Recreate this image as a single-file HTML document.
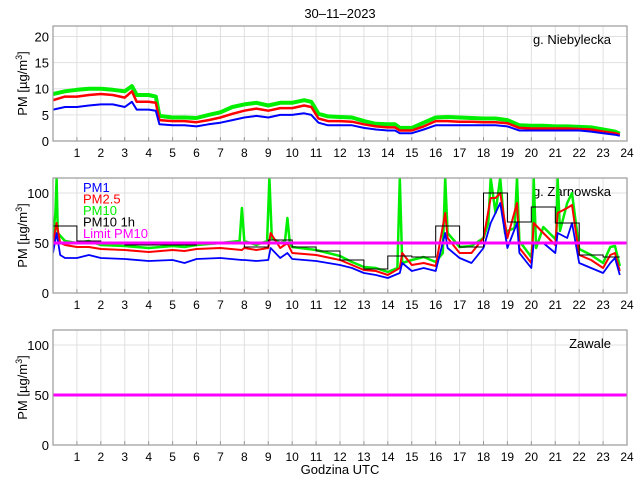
<!DOCTYPE html>
<html><head><meta charset="utf-8"><style>
body{margin:0;background:#fff;}
svg{display:block;font-family:"Liberation Sans",sans-serif;}
</style></head><body>
<svg id="chart" width="640" height="480" viewBox="0 0 640 480">
<text x="340" y="18" text-anchor="middle" font-size="13">30–11–2023</text>
</svg>
<script>
// ---- data ----
const hoursTop = [0,0.5,1,1.5,2,2.5,3,3.3,3.5,4,4.3,4.45,5,5.5,6,6.5,7,7.5,8,8.5,9,9.5,10,10.5,10.8,11.1,11.5,12,12.5,13,13.5,14,14.3,14.5,15,15.5,16,16.5,17,17.5,18,18.5,19,19.5,20,20.5,21,21.5,22,22.5,23,23.5,23.7];
const topPM1  = [6,6.5,6.5,6.8,7,7,6.5,7.5,6,6,5.8,3.2,3,3,2.8,3.2,3.5,4,4.5,4.8,4.5,5,5,5.3,5,3.5,3,3,3,2.5,2.2,2,2,1.5,1.5,2.2,3,3,3,3,3,3,2.8,2,2,2,2,2,2,1.8,1.5,1.2,1];
const topPM25 = [7.8,8.5,8.5,8.8,9,8.8,8.3,9.5,7.5,7.5,7.3,4,3.8,3.8,3.6,4,4.5,5.2,5.8,6.2,5.8,6.3,6.3,6.8,6.5,4.3,3.8,3.8,3.7,3.2,2.8,2.6,2.6,2,2,2.8,3.8,3.8,3.7,3.7,3.6,3.6,3.4,2.5,2.4,2.4,2.4,2.4,2.3,2.2,1.8,1.5,1.2];
const topPM10 = [9,9.5,9.8,10,10,9.8,9.5,10.5,8.8,8.8,8.5,4.8,4.5,4.5,4.4,5,5.5,6.5,7,7.3,6.8,7.3,7.3,7.8,7.5,5.2,4.7,4.6,4.5,3.8,3.3,3.2,3.2,2.5,2.5,3.5,4.5,4.6,4.5,4.4,4.3,4.3,4,3,2.9,2.9,2.8,2.8,2.7,2.6,2.2,1.8,1.4];

const hoursMid = [0,0.15,0.3,0.5,1,1.5,2,3,4,5,5.5,6,7,7.9,8,8.5,9,9.1,9.5,9.8,10,11,12,12.5,13,13.5,14,14.5,14.6,15,15.5,16,16.4,16.5,17,17.5,18,18.3,18.5,18.7,19,19.4,19.5,20,20.1,20.5,21,21.1,21.5,21.7,22,22.5,23,23.3,23.5,23.7];
const midPM1  = [40,60,38,35,35,38,35,34,32,33,30,34,35,33,33,32,33,45,35,40,34,32,28,25,20,18,15,20,30,22,25,22,60,45,35,30,45,70,80,90,45,70,40,25,50,50,40,60,55,70,30,25,20,30,35,18];
const midPM25 = [50,70,50,48,46,46,44,43,41,43,42,44,45,43,45,43,45,60,45,50,40,38,33,28,23,22,18,25,40,28,30,27,80,55,40,40,55,95,95,100,55,90,45,30,70,60,48,80,85,88,38,33,25,38,40,22];
const hoursMid10 = [
  0,0.1,0.15,0.2,0.5,
  1,1.5,2,3,4,
  5,5.5,6,7,7.8,
  7.9,8,8.5,8.95,9.05,
  9.15,9.5,9.7,9.8,9.9,
  10,11,12,12.5,13,
  13.5,14,14.4,14.5,14.6,
  15,15.5,16,16.3,16.4,
  16.5,17,17.5,18,18.2,
  18.3,18.5,18.7,18.9,19,
  19.3,19.4,19.5,20,20.05,
  20.1,20.2,20.5,21,21.05,
  21.1,21.2,21.5,21.7,22,
  22.5,23,23.3,23.5,23.7];
const midPM10 = [
  56,80,115,60,52,
  50,52,48,47,45,
  47,46,48,50,52,
  85,52,48,52,115,
  55,50,52,75,50,
  46,43,37,31,26,
  25,21,25,115,30,
  33,36,31,40,115,
  60,46,47,55,70,
  115,80,115,60,62,
  65,115,52,36,50,
  115,45,66,54,60,
  115,62,90,100,44,
  38,30,46,47,27];
const stepHours = [0,1,2,3,4,5,6,7,8,9,10,11,12,13,14,15,16,17,18,19,20,21,22,23,23.7];
const stepPM10 = [67,52,50,48,48,48,50,50,46,53,46,42,33,24,37,36,67,46,100,71,86,70,38,36];
const limitPM10 = [50];

const xTicks = [1,2,3,4,5,6,7,8,9,10,11,12,13,14,15,16,17,18,19,20,21,22,23,24];
const yTicksTop = [0,5,10,15,20];
const yTicksMid = [0,50,100];

// ---- layout ----
const NS="http://www.w3.org/2000/svg";
const svg=document.getElementById('chart');
const X0=53,X1=627;
function xs(h){return X0+(h/24)*(X1-X0);}
function mk(tag,attrs,parent){const e=document.createElementNS(NS,tag);for(const k in attrs)e.setAttribute(k,attrs[k]);(parent||svg).appendChild(e);return e;}

function panel(id,top,bottom,ymax,yticks,station,showXLabel){
  const g=mk('g',{});
  
  
  const ys=v=>bottom-(v/ymax)*(bottom-top);
  const clip=mk('clipPath',{id:'clip-'+id},g);
  mk('rect',{x:X0,y:top,width:X1-X0,height:bottom-top},clip);
  xTicks.forEach(t=>{
    const l=mk('line',{x1:xs(t),x2:xs(t),y1:top,y2:bottom,stroke:'#e0e0e0','stroke-width':1},g);
    
    
    const tk=mk('line',{x1:xs(t),x2:xs(t),y1:bottom,y2:bottom-4,stroke:'#999'},g);
    
    
    const tx=mk('text',{x:xs(t),y:bottom+16,'text-anchor':'middle','font-size':'12'},g);
    tx.textContent=t;
    
    
  });
  yticks.forEach(v=>{
    const l=mk('line',{x1:X0,x2:X1,y1:ys(v),y2:ys(v),stroke:'#e0e0e0'},g);
    
    
    const tx=mk('text',{x:X0-4,y:ys(v)+5,'text-anchor':'end','font-size':'13'},g);
    tx.textContent=v;
    
    
  });
  const yl=mk('text',{x:0,y:0,'text-anchor':'middle','font-size':'13',transform:`translate(27,${(top+bottom)/2}) rotate(-90)`},g);
  yl.innerHTML='PM [µg/m<tspan dy="-5" font-size="9">3</tspan><tspan dy="5">]</tspan>';
  
  
  const st=mk('text',{x:611,y:top+18,'text-anchor':'end','font-size':'13'},g);
  st.textContent=station;
  
  
  if(showXLabel){
    const xl=mk('text',{x:340,y:474,'text-anchor':'middle','font-size':'13'},g);
    xl.textContent='Godzina UTC';
    
    
  }
  return {g,ys,clipId:'clip-'+id,top,bottom};
}
function line(P,hours,vals,color,w,name){
  const d=hours.map((h,i)=>(i?'L':'M')+xs(h).toFixed(1)+','+P.ys(Math.min(vals[i],200)).toFixed(1)).join('');
  const p=mk('path',{d,fill:'none',stroke:color,'stroke-width':w,'stroke-linejoin':'round','clip-path':`url(#${P.clipId})`},P.g);
  
  
}
function stepLine(P,hours,vals,name){
  let d='';
  vals.forEach((v,i)=>{d+=(i?'L':'M')+xs(hours[i]).toFixed(1)+','+P.ys(v).toFixed(1)+'L'+xs(hours[i+1]).toFixed(1)+','+P.ys(v).toFixed(1);});
  const p=mk('path',{d,fill:'none',stroke:'#000','stroke-width':1,'clip-path':`url(#${P.clipId})`},P.g);
  
  
}
function limit(P,v){
  const l=mk('line',{x1:X0,x2:X1,y1:P.ys(v),y2:P.ys(v),stroke:'#ff00ff','stroke-width':3},P.g);
  
  
}
function frame(P){
  const r=mk('rect',{x:X0,y:P.top,width:X1-X0,height:P.bottom-P.top,fill:'none',stroke:'#999','stroke-width':1.2},P.g);
  
  
}

const P1=panel('niebylecka',26,141,22,yTicksTop,'g. Niebylecka',false);
line(P1,hoursTop,topPM10,'#00ee00',4,'pm10-line');
line(P1,hoursTop,topPM25,'#ff0000',2.5,'pm25-line');
line(P1,hoursTop,topPM1,'#0000ff',2,'pm1-line');
frame(P1);

const P2=panel('zarnowska',178,293,115,yTicksMid,'g. Zarnowska',false);
line(P2,hoursMid10,midPM10,'#00ee00',2.5,'pm10-line');
line(P2,hoursMid,midPM25,'#ff0000',2,'pm25-line');
line(P2,hoursMid,midPM1,'#0000ff',1.8,'pm1-line');
stepLine(P2,stepHours,stepPM10,'pm10-1h-step');
limit(P2,limitPM10[0]);
frame(P2);
const legend=[['PM1','#0000ff'],['PM2.5','#ff0000'],['PM10','#00ee00'],['PM10 1h','#000'],['Limit PM10','#ff00ff']];
legend.forEach((l,i)=>{
  const t=mk('text',{x:83,y:192+i*11.5,'font-size':'13',fill:l[1]},P2.g);
  t.textContent=l[0];
  
  
});

const P3=panel('zawale',330,445,115,yTicksMid,'Zawale',true);
limit(P3,limitPM10[0]);
frame(P3);
</script>
</body></html>
